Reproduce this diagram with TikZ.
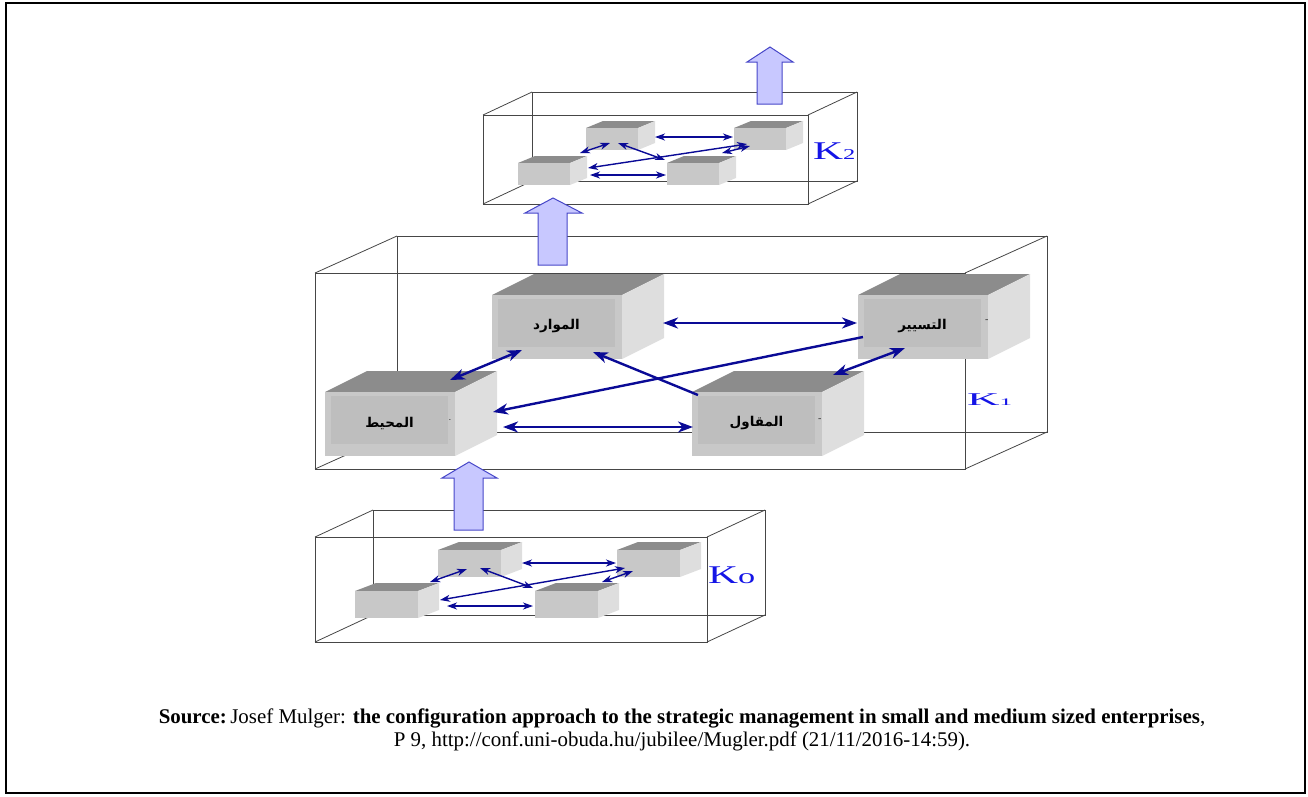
\documentclass[tikz,border=0pt]{standalone}
\usepackage{fontspec}
\setmainfont{Liberation Serif}
\newfontfamily\arabicfont[Script=Arabic]{DejaVu Sans}
\usetikzlibrary{arrows.meta,calc}
\TeXXeTstate=1
\definecolor{arrowblue}{RGB}{10,10,150}
\definecolor{blockfill}{RGB}{200,200,255}
\definecolor{blockline}{RGB}{70,70,200}
\definecolor{klabel}{RGB}{20,20,230}
\definecolor{topgray}{RGB}{140,140,140}
\definecolor{frontgray}{RGB}{200,200,200}
\definecolor{sidegray}{RGB}{222,222,222}
\definecolor{innergray}{RGB}{190,190,190}
\definecolor{framegray}{RGB}{70,70,70}
\tikzset{
  framebox/.style={draw=framegray,line width=0.8pt},
  frontface/.style={fill=frontgray,inner sep=0pt,outer sep=0pt},
  innerface/.style={fill=innergray,inner sep=0pt,outer sep=0pt,minimum width=117,minimum height=48},
  arlabel/.style={inner sep=0pt,font=\arabicfont\bfseries\fontsize{13.5}{15}\selectfont},
  marklabel/.style={inner sep=0pt,font=\sffamily\fontsize{10}{10}\selectfont},
  bigarrow/.style={draw=arrowblue,line width=2.4pt,arrows={Stealth[length=15pt,width=11pt,inset=4.5pt]-Stealth[length=15pt,width=11pt,inset=4.5pt]}},
  bigonearrow/.style={draw=arrowblue,line width=2.4pt,arrows={-Stealth[length=15pt,width=11pt,inset=4.5pt]}},
  smallarrow/.style={draw=arrowblue,line width=1.4pt,arrows={Stealth[length=10pt,width=7pt,inset=3pt]-Stealth[length=10pt,width=7pt,inset=3pt]}},
  blockarrow/.style={fill=blockfill,draw=blockline,line width=1pt,line join=miter},
  klab/.style={inner sep=0pt,text=klabel,anchor=base west},
  srctext/.style={inner sep=0pt,anchor=base,font=\fontsize{20.9}{23}\selectfont}
}
% big 3D box: name, x, y (front top-left), label, mark, mark dx, mark dy
\newcommand\bigcube[7]{%
  \fill[topgray] (#2,#3) -- ++(130,0) -- ++(42,-21) -- ++(-130,0) -- cycle;
  \fill[sidegray] (#2+130,#3) -- ++(42,-21) -- ++(0,64) -- ++(-42,21) -- cycle;
  \node[frontface,minimum width=130,minimum height=64,anchor=north west] (#1) at (#2,#3) {};
  \node[innerface,anchor=north west] (#1-in) at (#2+6,#3+4) {};
  \node[arlabel] (#1-t) at ($(#1-in.center)+(0,3)$) {\beginR #4\endR};
  \node[marklabel] (#1-m) at ($(#1-in.east)+(#6,#7)$) {#5};
}
% small 3D box: name, x, y, w, h, dx, dy
\newcommand\smallcube[7]{%
  \fill[topgray] (#2,#3) -- ++(#4,0) -- ++(#6,#7) -- ++(-#4,0) -- cycle;
  \fill[sidegray] (#2+#4,#3) -- ++(#6,#7) -- ++(0,#5) -- ++(-#6,-#7) -- cycle;
  \node[frontface,minimum width=#4,minimum height=#5,anchor=north west] (#1) at (#2,#3) {};
}
% wire-frame box: front x1,y1,x2,y2 and depth dx,dy
\newcommand\wirebox[6]{%
  \draw[framebox] (#1+#5,#2+#6) rectangle (#3+#5,#4+#6);
  \draw[framebox] (#1,#2) rectangle (#3,#4);
  \draw[framebox] (#1,#2) -- ++(#5,#6);
  \draw[framebox] (#3,#2) -- ++(#5,#6);
  \draw[framebox] (#1,#4) -- ++(#5,#6);
  \draw[framebox] (#3,#4) -- ++(#5,#6);
}
% hollow block arrow: shaft left, shaft right, bottom, head base, head left, head right, tip x, tip y
\newcommand\uparrowblock[8]{%
  \draw[blockarrow] (#1,#3) -- (#2,#3) -- (#2,#4) -- (#6,#4) -- (#7,#8) -- (#5,#4) -- (#1,#4) -- cycle;
}
\begin{document}
\begin{tikzpicture}[x=1pt,y=-1pt]
\useasboundingbox (0,0) rectangle (1308,796);
\draw[black,line width=2pt] (6,3) rectangle (1305,793);

% ---------- frames ----------
\wirebox{483}{115}{808}{204}{49}{-23}
\wirebox{315}{273}{965}{469}{82}{-37}
\wirebox{315}{537}{707}{642}{58}{-27}

% ---------- block arrows ----------
\uparrowblock{757}{782}{104}{62}{747}{793}{770}{47}
\uparrowblock{538}{567}{265}{213}{525}{582}{553}{198}
\uparrowblock{454}{483}{530}{478}{442}{497}{469}{462}

% ---------- K2 layer ----------
\smallcube{tA}{586}{128}{52}{22}{17}{-7}
\smallcube{tB}{734}{128}{52}{22}{17}{-7}
\smallcube{tC}{518}{163}{52}{22}{17}{-7}
\smallcube{tD}{667}{163}{52}{22}{17}{-7}
\coordinate (tAB1) at (655,137); \coordinate (tAB2) at (733,137);
\coordinate (tCD1) at (590,175); \coordinate (tCD2) at (666,175);
\coordinate (tAC1) at (580,153); \coordinate (tAC2) at (610,143);
\coordinate (tAD1) at (618,143); \coordinate (tAD2) at (665,160);
\coordinate (tCB1) at (588,168); \coordinate (tCB2) at (747,144);
\coordinate (tDB1) at (722,153); \coordinate (tDB2) at (750,146);
\draw[smallarrow] (tAB1) -- (tAB2);
\draw[smallarrow] (tCD1) -- (tCD2);
\draw[smallarrow] (tAC1) -- (tAC2);
\draw[smallarrow] (tAD1) -- (tAD2);
\draw[smallarrow] (tCB1) -- (tCB2);
\draw[smallarrow] (tDB1) -- (tDB2);
\node[klab] (k2) at (813,159) {\scalebox{1.63}[1]{\fontsize{25.5}{26}\selectfont K\fontsize{15}{15}\selectfont 2}};

% ---------- K1 layer ----------
\bigcube{mawarid}{492}{295}{الموارد}{}{0}{0}
\bigcube{tasyir}{858}{295}{التسيير}{-}{6}{-2}
\bigcube{muhit}{325}{392}{المحيط}{·}{2}{2}
\bigcube{muqawil}{692}{392}{المقاول}{-}{5}{0}
\coordinate (mt1) at (663,323); \coordinate (mt2) at (857,323);
\coordinate (mh1) at (522,350); \coordinate (mh2) at (450,380);
\coordinate (th1) at (863,337); \coordinate (th2) at (493,412);
\coordinate (qm1) at (698,395); \coordinate (qm2) at (593,352);
\coordinate (hq1) at (503,427); \coordinate (hq2) at (693,427);
\coordinate (tq1) at (905,348); \coordinate (tq2) at (833,375);
\draw[bigarrow] (mt1) -- (mt2);
\draw[bigarrow] (mh1) -- (mh2);
\draw[bigonearrow] (th1) -- (th2);
\draw[bigonearrow] (qm1) -- (qm2);
\draw[bigarrow] (hq1) -- (hq2);
\draw[bigarrow] (tq1) -- (tq2);
\node[klab] (k1) at (967,405) {\scalebox{2.5}[1]{\fontsize{18}{18}\selectfont K\fontsize{10}{10}\selectfont 1}};

% ---------- K0 layer ----------
\smallcube{bA}{438}{550}{63}{27}{21}{-8}
\smallcube{bB}{617}{550}{63}{27}{21}{-8}
\smallcube{bC}{355}{591}{63}{27}{21}{-8}
\smallcube{bD}{535}{591}{63}{27}{21}{-8}
\coordinate (bAB1) at (522,563); \coordinate (bAB2) at (616,563);
\coordinate (bCD1) at (447,606); \coordinate (bCD2) at (533,606);
\coordinate (bAC1) at (430,582); \coordinate (bAC2) at (467,569);
\coordinate (bAD1) at (480,568); \coordinate (bAD2) at (533,588);
\coordinate (bCB1) at (440,600); \coordinate (bCB2) at (625,568);
\coordinate (bDB1) at (602,582); \coordinate (bDB2) at (633,571);
\draw[smallarrow] (bAB1) -- (bAB2);
\draw[smallarrow] (bCD1) -- (bCD2);
\draw[smallarrow] (bAC1) -- (bAC2);
\draw[smallarrow] (bAD1) -- (bAD2);
\draw[smallarrow] (bCB1) -- (bCB2);
\draw[smallarrow] (bDB1) -- (bDB2);
\node[klab] (k0) at (708,583) {\scalebox{1.63}[1]{\fontsize{25.5}{26}\selectfont K\fontsize{21}{21}\selectfont o}};

% ---------- source ----------
\node[srctext] (src1) at (682,723) {\textbf{Source:}\,Josef Mulger: \textbf{the configuration approach to the strategic management in small and medium sized enterprises},};
\node[srctext] (src2) at (682,746) {P 9, http://conf.uni-obuda.hu/jubilee/Mugler.pdf (21/11/2016-14:59).};
\end{tikzpicture}
\end{document}
